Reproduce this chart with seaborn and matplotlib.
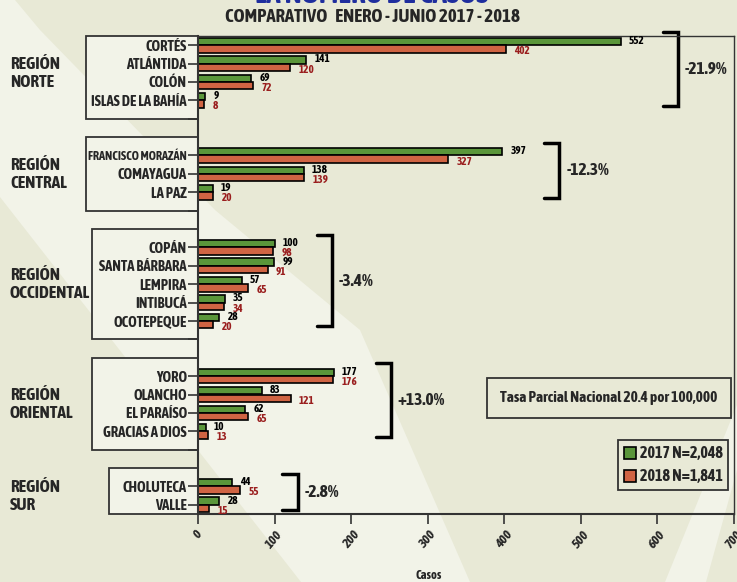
import matplotlib
matplotlib.use("Agg")
import matplotlib.pyplot as plt
import matplotlib.transforms as mtransforms
from matplotlib.patches import Polygon, Rectangle
import pandas as pd
import seaborn as sns

# --- datos ---
regiones = ["NORTE", "CENTRAL", "OCCIDENTAL", "ORIENTAL", "SUR"]
deptos_norte = ["CORTÉS", "ATLÁNTIDA", "COLÓN", "ISLAS DE LA BAHÍA"]
deptos_central = ["FRANCISCO MORAZÁN", "COMAYAGUA", "LA PAZ"]
deptos_occidental = ["COPÁN", "SANTA BÁRBARA", "LEMPIRA", "INTIBUCÁ", "OCOTEPEQUE"]
deptos_oriental = ["YORO", "OLANCHO", "EL PARAÍSO", "GRACIAS A DIOS"]
deptos_sur = ["CHOLUTECA", "VALLE"]

casos_2017 = [[552, 141, 69, 9], [397, 138, 19], [100, 99, 57, 35, 28],
              [177, 83, 62, 10], [44, 28]]
casos_2018 = [[402, 120, 72, 8], [327, 139, 20], [98, 91, 65, 34, 20],
              [176, 121, 65, 13], [55, 15]]
anios = ["2017", "2018"]

titulo = "LA NÚMERO DE CASOS"
subtitulo = "COMPARATIVO   ENERO - JUNIO 2017 - 2018"
tasa_texto = "Tasa Parcial Nacional 20.4 por 100,000"

# --- estilo ---
FONDO = "#E8E9D6"
CLARO = "#F2F3E8"
VERDE = "#55A52B"
NARANJA = "#E8582B"
ROJO_TXT = "#9A1E1E"
BORDE = "#333333"
W, H = 737, 582

sns.set_theme(style="ticks")
plt.rcParams["font.family"] = ["Asap Condensed", "DejaVu Sans"]
plt.rcParams["font.weight"] = "bold"


def fx(x):
    return x / W


def fy(y):
    return 1 - y / H


# tabla larga con posiciones (2 huecos entre regiones)
total17, total18 = sum(map(sum, casos_2017)), sum(map(sum, casos_2018))
series = [f"{anios[0]} N={total17:,}", f"{anios[1]} N={total18:,}"]
deptos = [deptos_norte, deptos_central, deptos_occidental, deptos_oriental, deptos_sur]

filas, grupos, ticks, etiquetas = [], [], [], []
pos = 0
for reg, nombres, v17, v18 in zip(regiones, deptos, casos_2017, casos_2018):
    inicio = pos
    for n, a, b in zip(nombres, v17, v18):
        filas.append({"depto": n, "pos": pos, "casos": a, "serie": series[0]})
        filas.append({"depto": n, "pos": pos, "casos": b, "serie": series[1]})
        ticks.append(pos)
        etiquetas.append(n)
        pos += 1
    grupos.append((reg, inicio, pos - 1, sum(v17), sum(v18), max(v17 + v18)))
    if reg != regiones[-1]:
        ticks.append(pos)
        etiquetas.append("")
    pos += 2
df = pd.DataFrame(filas)
ymax = grupos[-1][2] + 0.5

fig = plt.figure(figsize=(W / 100, H / 100), dpi=100, facecolor=FONDO)

# bandas claras del fondo
for pts in [
    [(0, 0), (15, 0), (40, 30), (215, 210), (360, 330), (470, 582), (301, 582), (0, 197)],
    [(737, 405), (737, 470), (706, 582), (665, 582)],
]:
    fig.patches.append(Polygon([(fx(x), fy(y)) for x, y in pts], closed=True,
                               transform=fig.transFigure, facecolor=CLARO,
                               edgecolor="none", zorder=-5))

ax = fig.add_axes([fx(198), fy(514), fx(734) - fx(198), fy(36) - fy(514)])
ax.set_facecolor("none")

sns.barplot(data=df, x="casos", y="pos", hue="serie", orient="h", native_scale=True,
            palette=[VERDE, NARANJA], edgecolor="black", linewidth=1.2,
            errorbar=None, width=0.8, ax=ax)

ax.set_xlim(0, 700)
ax.set_ylim(ymax, -0.5)
ax.set_yticks(ticks)
ax.set_yticklabels(etiquetas, fontsize=10.5, fontweight="bold")
ax.set_xticks(range(0, 701, 100))
ax.set_xticklabels([str(v) for v in range(0, 701, 100)], rotation=50,
                   fontsize=9.5, fontweight="bold", style="italic", ha="center")
ax.tick_params(axis="y", length=7, width=1.2, color=BORDE, pad=1)
ax.tick_params(axis="x", length=7, width=1.2, color=BORDE, pad=3)
ax.set_ylabel("")
ax.set_xlabel("Casos", fontsize=9, fontweight="bold")
ax.xaxis.set_label_coords((429 - 198) / 536, -0.115)
for lado, sp in ax.spines.items():
    sp.set_visible(True)
    sp.set_color(BORDE)
    sp.set_linewidth(1.5 if lado in ("left", "bottom") else 1.0)

# etiquetas de valores
for _, r in df.iterrows():
    if r["serie"] == series[0]:
        ax.text(r["casos"] + 11, r["pos"] - 0.26, f"{r['casos']}", fontsize=8,
                fontweight="bold", color="black", va="center", ha="left")
    else:
        ax.text(r["casos"] + 11, r["pos"] + 0.3, f"{r['casos']}", fontsize=8,
                fontweight="bold", color=ROJO_TXT, va="center", ha="left")

# cajas, nombres de region, corchetes y variacion
mixto = mtransforms.blended_transform_factory(fig.transFigure, ax.transData)
caja_x = [86, 86, 92, 92, 109]
for (reg, ini, fin, s17, s18, vmax), cx in zip(grupos, caja_x):
    y0 = max(ini - 1, -0.5)
    y1 = min(fin + 1, ymax)
    ax.add_patch(Rectangle((fx(cx), y0), fx(198) - fx(cx), y1 - y0, transform=mixto,
                           facecolor=CLARO, edgecolor=BORDE, linewidth=1.3,
                           clip_on=False, zorder=0.5))
    ax.text(fx(10), (ini + fin) / 2, f"REGIÓN\n{reg}", transform=mixto, fontsize=12.5,
            fontweight="bold", ha="left", va="center", linespacing=1.15, clip_on=False)

    xb = vmax + 75
    ya, yb = ini - 0.7, fin + 0.3
    ax.plot([xb - 20, xb, xb, xb - 20], [ya, ya, yb, yb], color="black", lw=2.5,
            solid_joinstyle="miter", clip_on=False)
    cambio = (s18 - s17) / s17 * 100
    ax.text(xb + 9, (ya + yb) / 2, f"{cambio:+.1f}%", fontsize=12.5,
            fontweight="bold", ha="left", va="center")

# encoger las etiquetas de departamento que no caben en su caja
fig.canvas.draw()
for lab in ax.get_yticklabels():
    bb = lab.get_window_extent()
    if bb.width > 0 and bb.x0 < 88:
        lab.set_fontsize(lab.get_fontsize() * (bb.x1 - 88) / bb.width)

ax.text((609 - 198) / 536, (514 - 398) / 478, tasa_texto, transform=ax.transAxes,
        fontsize=11, fontweight="bold", ha="center", va="center",
        bbox=dict(boxstyle="square,pad=0.85", facecolor=FONDO, edgecolor=BORDE, linewidth=1.3))

sns.move_legend(ax, "lower right", bbox_to_anchor=((728 - 198) / 536, (514 - 490) / 478),
                title=None, frameon=True, fancybox=False, framealpha=1,
                facecolor=FONDO, edgecolor=BORDE, fontsize=11.5, handlelength=0.8,
                handleheight=0.8, handletextpad=0.2, labelspacing=0.45,
                borderpad=0.35, borderaxespad=0)
for t in ax.get_legend().get_texts():
    t.set_fontweight("bold")
ax.get_legend().get_frame().set_linewidth(1.3)

fig.text(0.505, fy(3), titulo, color="#1F2E9E", fontsize=21, fontweight="bold",
         ha="center", va="baseline")
fig.text(fx(372), fy(17), subtitulo, fontsize=13.5, fontweight="bold",
         ha="center", va="center")

fig.savefig("out.png", dpi=100, facecolor=FONDO)
